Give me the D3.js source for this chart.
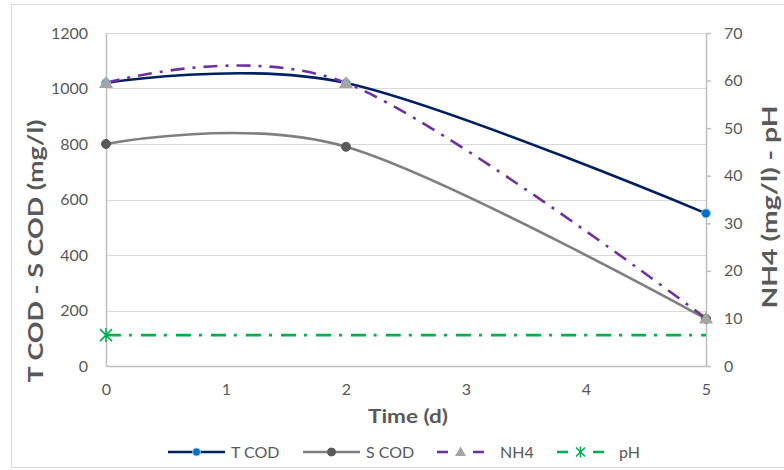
<!DOCTYPE html>
<html>
<head>
<meta charset="utf-8">
<script src="https://cdn.jsdelivr.net/npm/d3@7/dist/d3.min.js"></script>
<style>
  html, body { margin: 0; padding: 0; background: #fff; }
  svg { display: block; font-family: Lato, "Open Sans", sans-serif; }
</style>
</head>
<body>
<svg id="chart" width="784" height="470"></svg>
<script>
// Sampling days
const days = [0, 2, 5];
// Left axis series (mg/l)
const tCOD = [1020, 1020, 550];
const sCOD = [800, 790, 170];
// Right axis series
const nh4 = [59.5, 59.5, 10];
const pH = [6.5, 6.5, 6.5];

const leftTicks = [0, 200, 400, 600, 800, 1000, 1200];
const rightTicks = [0, 10, 20, 30, 40, 50, 60, 70];
const xTicks = [0, 1, 2, 3, 4, 5];

const svg = d3.select("#chart");
const textColor = "#595959";

// Outer frame of the chart
svg.append("rect")
  .attr("x", 11.5).attr("y", 4.5)
  .attr("width", 790).attr("height", 463)
  .attr("fill", "#fff").attr("stroke", "#d9d9d9").attr("stroke-width", 1);

const x = d3.scaleLinear().domain([0, 5]).range([106, 706]);
const yL = d3.scaleLinear().domain([0, 1200]).range([366, 33]);
const yR = d3.scaleLinear().domain([0, 70]).range([366, 33]);

// Horizontal gridlines
svg.append("g").selectAll("line").data(leftTicks.slice(1)).join("line")
  .attr("x1", x(0)).attr("x2", x(5))
  .attr("y1", d => Math.round(yL(d)) + 0.5).attr("y2", d => Math.round(yL(d)) + 0.5)
  .attr("stroke", "#d9d9d9").attr("stroke-width", 1);

// Left axis
const gL = svg.append("g").attr("transform", `translate(${x(0)},0)`)
  .call(d3.axisLeft(yL).tickValues(leftTicks).tickSize(0).tickPadding(18).tickFormat(d3.format("d")));
gL.select(".domain").attr("stroke", "#bfbfbf").attr("stroke-width", 1.5);
gL.selectAll("text").attr("fill", textColor).style("font-size", "16px").style("font-family", "Lato, sans-serif");

// Right axis
const gR = svg.append("g").attr("transform", `translate(${x(5)},0)`)
  .call(d3.axisRight(yR).tickValues(rightTicks).tickSizeInner(5).tickSizeOuter(0).tickPadding(13).tickFormat(d3.format("d")));
gR.select(".domain").attr("stroke", "#bfbfbf").attr("stroke-width", 1.5);
gR.selectAll(".tick line").attr("stroke", "#bfbfbf").attr("stroke-width", 1.5);
gR.selectAll("text").attr("fill", textColor).style("font-size", "16px").style("font-family", "Lato, sans-serif");

// Bottom axis
const gB = svg.append("g").attr("transform", `translate(0,${yL(0)})`)
  .call(d3.axisBottom(x).tickValues(xTicks).tickSize(0).tickPadding(18).tickFormat(d3.format("d")));
gB.select(".domain").attr("stroke", "#bfbfbf").attr("stroke-width", 1.5);
gB.selectAll("text").attr("fill", textColor).style("font-size", "16px").style("font-family", "Lato, sans-serif");

// Axis titles
svg.append("text")
  .attr("transform", "translate(43,251) rotate(-90)")
  .attr("text-anchor", "middle")
  .attr("fill", textColor).attr("font-weight", "bold").style("font-size", "20px")
  .attr("textLength", 263).attr("lengthAdjust", "spacingAndGlyphs")
  .text("T COD - S COD (mg/l)");

svg.append("text")
  .attr("transform", "translate(777,207) rotate(-90)")
  .attr("text-anchor", "middle")
  .attr("fill", textColor).attr("font-weight", "bold").style("font-size", "20px")
  .attr("textLength", 203).attr("lengthAdjust", "spacingAndGlyphs")
  .text("NH4 (mg/l) - pH");

svg.append("text")
  .attr("x", 408).attr("y", 423)
  .attr("text-anchor", "middle")
  .attr("fill", textColor).attr("font-weight", "bold").style("font-size", "18px")
  .attr("textLength", 80).attr("lengthAdjust", "spacingAndGlyphs")
  .text("Time (d)");

// Series
const smooth = d3.curveCardinal.tension(0);
const series = [
  { name: "T COD", values: tCOD, y: yL, color: "#002060", dash: null, marker: "circle", mFill: "#0070C0", mStroke: "#9dc3e6" },
  { name: "S COD", values: sCOD, y: yL, color: "#7f7f7f", dash: null, marker: "circle", mFill: "#595959", mStroke: "#595959" },
  { name: "NH4", values: nh4, y: yR, color: "#7030a0", dash: "14,8,3,8", marker: "triangle", mFill: "#a5a5a5", mStroke: "#a5a5a5" },
  { name: "pH", values: pH, y: yR, color: "#00b050", dash: "15,8,3,9", marker: "star", mFill: "none", mStroke: "#00b050" }
];

function drawMarker(g, type, cx, cy, s) {
  if (type === "circle") {
    g.append("circle").attr("cx", cx).attr("cy", cy).attr("r", 4.5)
      .attr("fill", s.mFill).attr("stroke", s.mStroke).attr("stroke-width", 1);
  } else if (type === "triangle") {
    g.append("path")
      .attr("d", `M${cx},${cy - 7} L${cx + 7},${cy + 5} L${cx - 7},${cy + 5} Z`)
      .attr("fill", s.mFill);
  } else if (type === "star") {
    const r = 6;
    g.append("path")
      .attr("d", `M${cx - r},${cy - r}L${cx + r},${cy + r}M${cx - r},${cy + r}L${cx + r},${cy - r}M${cx},${cy - r - 1}L${cx},${cy + r + 1}`)
      .attr("stroke", s.mStroke).attr("stroke-width", 1.6).attr("fill", "none");
  }
}

series.forEach(s => {
  const pts = days.map((d, i) => [x(d), s.y(s.values[i])]);
  svg.append("path")
    .attr("d", d3.line().curve(smooth)(pts))
    .attr("fill", "none")
    .attr("stroke", s.color)
    .attr("stroke-width", 2.6)
    .attr("stroke-dasharray", s.dash);
});

series.forEach(s => {
  const g = svg.append("g");
  if (s.marker === "star") {
    drawMarker(g, "star", x(days[0]), s.y(s.values[0]), s);
  } else {
    days.forEach((d, i) => drawMarker(g, s.marker, x(d), s.y(s.values[i]), s));
  }
});

// Legend
const legendY = 452;
const legendItems = [
  { s: series[0], x0: 168, x1: 225, tx: 231 },
  { s: series[1], x0: 303, x1: 360, tx: 366 },
  { s: series[2], x0: 437, x1: 484, tx: 500 },
  { s: series[3], x0: 557, x1: 604, tx: 619 }
];
legendItems.forEach(it => {
  const g = svg.append("g");
  const mid = (it.x0 + it.x1) / 2;
  if (it.s.dash) {
    g.append("line").attr("x1", it.x0).attr("x2", it.x0 + 11).attr("y1", legendY).attr("y2", legendY)
      .attr("stroke", it.s.color).attr("stroke-width", 2.6);
    g.append("line").attr("x1", it.x1 - 11).attr("x2", it.x1).attr("y1", legendY).attr("y2", legendY)
      .attr("stroke", it.s.color).attr("stroke-width", 2.6);
  } else {
    g.append("line").attr("x1", it.x0).attr("x2", it.x1).attr("y1", legendY).attr("y2", legendY)
      .attr("stroke", it.s.color).attr("stroke-width", 2.6);
  }
  if (it.s.marker === "triangle") {
    g.append("path")
      .attr("d", `M${mid},${legendY - 5.5} L${mid + 5.5},${legendY + 4} L${mid - 5.5},${legendY + 4} Z`)
      .attr("fill", it.s.mFill);
  } else if (it.s.marker === "star") {
    const r = 4.5;
    g.append("path")
      .attr("d", `M${mid - r},${legendY - r}L${mid + r},${legendY + r}M${mid - r},${legendY + r}L${mid + r},${legendY - r}M${mid},${legendY - r - 1}L${mid},${legendY + r + 1}`)
      .attr("stroke", it.s.mStroke).attr("stroke-width", 1.6).attr("fill", "none");
  } else {
    g.append("circle").attr("cx", mid).attr("cy", legendY).attr("r", 4)
      .attr("fill", it.s.mFill).attr("stroke", it.s.mStroke).attr("stroke-width", 1);
  }
  g.append("text").attr("x", it.tx).attr("y", legendY).attr("dy", "0.35em")
    .attr("fill", textColor).style("font-size", "16px")
    .text(it.s.name);
});
</script>
</body>
</html>
